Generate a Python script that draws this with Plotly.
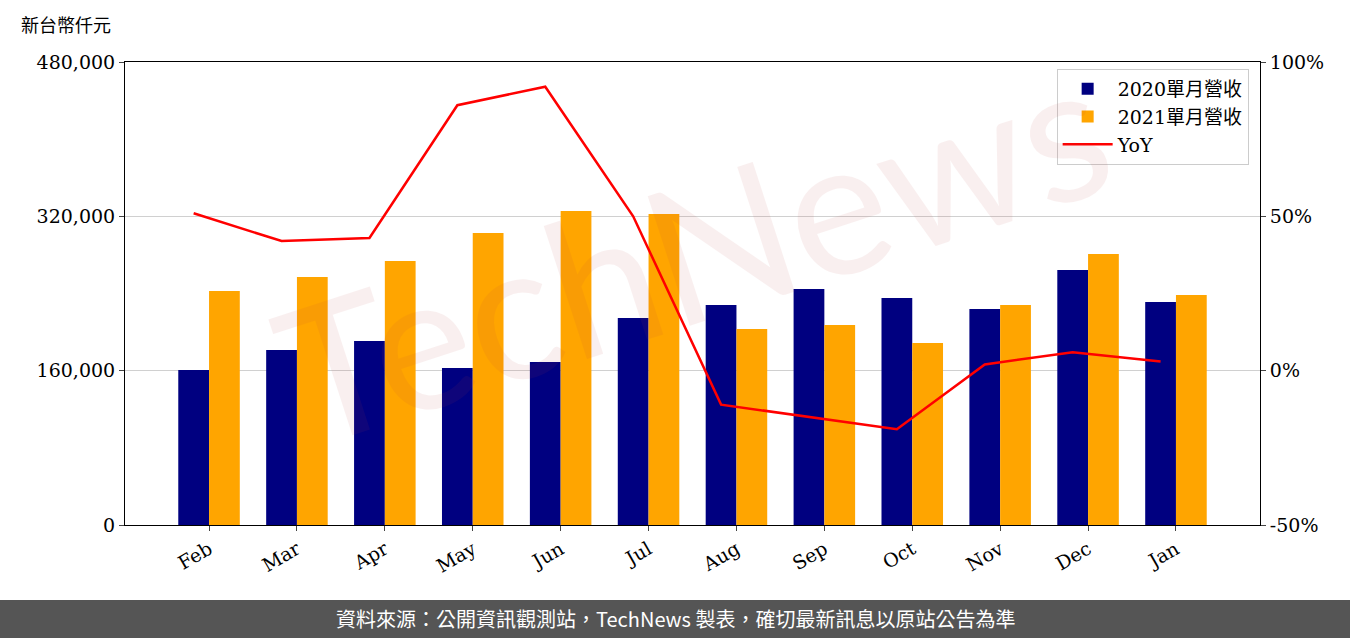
import plotly.graph_objects as go

months = ["Feb", "Mar", "Apr", "May", "Jun", "Jul", "Aug", "Sep", "Oct", "Nov", "Dec", "Jan"]
rev_2020 = [160700, 181400, 190800, 162800, 169000, 214600, 228100, 244700, 235300, 223900, 264400, 231200]
rev_2021 = [242600, 257100, 273700, 302700, 325500, 322400, 203200, 207300, 188700, 228100, 280900, 238400]
yoy = [51, 42, 43, 86, 92, 50, -11, -15, -19, 2, 6, 3]

font_main = "DejaVu Serif, Noto Sans CJK TC"
x_range = [-0.956, 11.956]
line_shift = 0.175  # YoY points sit over the 2020 bars

fig = go.Figure()
fig.add_trace(go.Bar(x=months, y=rev_2020, name="2020單月營收", marker_color="#000080",
                     marker_line_width=0, offsetgroup="a", width=0.35))
fig.add_trace(go.Bar(x=months, y=rev_2021, name="2021單月營收", marker_color="#FFA500",
                     marker_line_width=0, offsetgroup="b", width=0.35))
fig.add_trace(go.Scatter(x=months, y=yoy, name="YoY", mode="lines",
                         line=dict(color="red", width=2.5), xaxis="x2", yaxis="y2"))

fig.update_layout(
    width=1350, height=638,
    margin=dict(l=125, r=90, t=62, b=113, autoexpand=False),
    paper_bgcolor="white", plot_bgcolor="white",
    font=dict(family=font_main, size=19, color="black"),
    barmode="group", bargap=0.3,
    showlegend=True,
    legend=dict(x=0.99, y=0.985, xanchor="right", yanchor="top",
                bordercolor="#cccccc", borderwidth=1, font=dict(size=19),
                itemwidth=50),
    xaxis=dict(tickangle=-30, showline=True, linecolor="black", mirror=True,
               ticks="outside", range=x_range, automargin=False),
    xaxis2=dict(overlaying="x", visible=False, categoryorder="array", categoryarray=months,
                range=[x_range[0] + line_shift, x_range[1] + line_shift]),
    yaxis=dict(range=[0, 480000], tickvals=[0, 160000, 320000, 480000],
               tickformat=",", showgrid=True, gridcolor="#d0d0d0", automargin=False,
               showline=True, linecolor="black", ticks="outside", zeroline=False),
    yaxis2=dict(range=[-50, 100], tickvals=[-50, 0, 50, 100],
                ticktext=["-50%", "0%", "50%", "100%"], automargin=False,
                overlaying="y", side="right", showgrid=False, zeroline=False,
                showline=True, linecolor="black", ticks="outside"),
    annotations=[
        dict(text="新台幣仟元", xref="paper", yref="paper", x=-0.093, y=1.05,
             xanchor="left", yanchor="bottom", showarrow=False,
             font=dict(size=18, family="Noto Sans CJK TC")),
        dict(text="TechNews", xref="paper", yref="paper", x=0.5, y=0.6,
             showarrow=False, textangle=-18, opacity=0.08,
             font=dict(size=190, family="Lato", color="#c04040")),
    ],
    shapes=[dict(type="rect", xref="paper", yref="paper", x0=-0.3, x1=1.3,
                 y0=-0.3, y1=-0.162, fillcolor="#555555", line_width=0, layer="below")],
)
fig.add_annotation(text="資料來源：公開資訊觀測站，TechNews 製表，確切最新訊息以原站公告為準",
                   xref="paper", yref="paper", x=0.485, y=-0.203, yanchor="middle",
                   showarrow=False,
                   font=dict(size=20, color="white", family="Noto Sans CJK TC"))

fig.write_html("out.html", config={"displayModeBar": False},
               post_script="document.body.style.margin='0';")
